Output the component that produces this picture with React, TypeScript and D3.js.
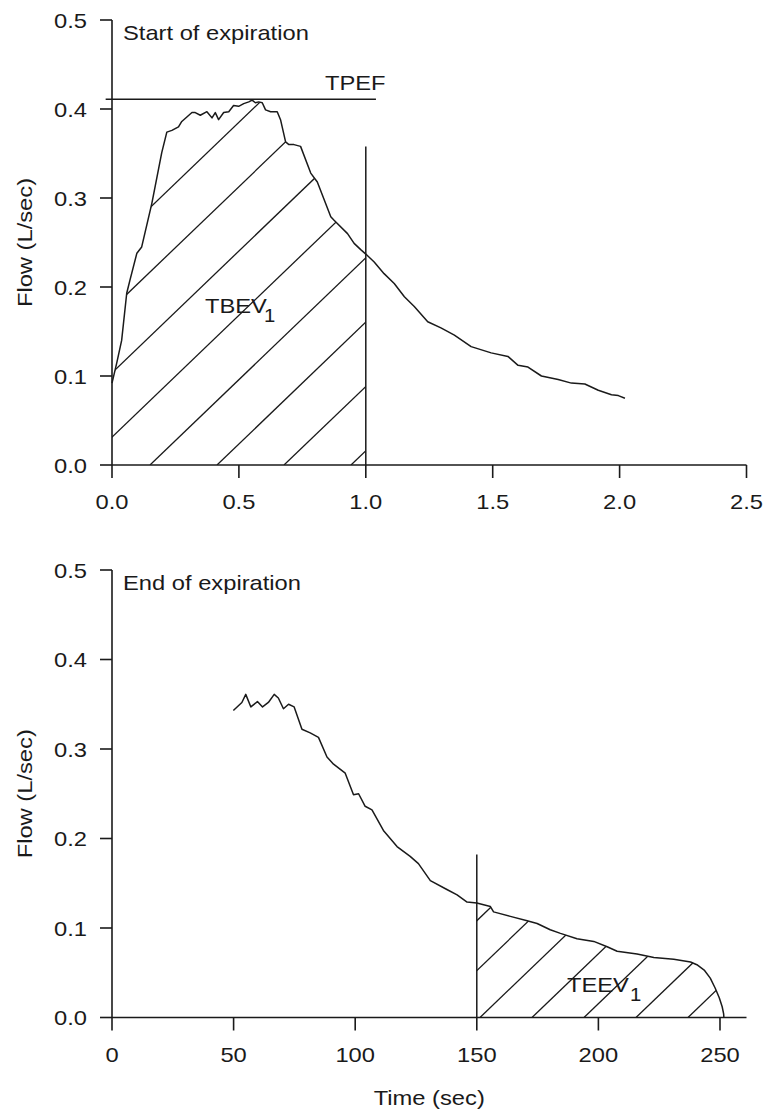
import React from "react";
import * as d3 from "d3";

// ---------- data ----------
const topTime = [0, 0.019, 0.038, 0.058, 0.071, 0.098, 0.117, 0.157, 0.196, 0.216, 0.236, 0.262, 0.275, 0.295, 0.315, 0.328, 0.348, 0.374, 0.394, 0.407, 0.42, 0.44, 0.46, 0.479, 0.499, 0.519, 0.539, 0.552, 0.565, 0.578, 0.592, 0.605, 0.625, 0.651, 0.664, 0.684, 0.697, 0.717, 0.743, 0.783, 0.809, 0.862, 0.875, 0.928, 0.954, 0.98, 1.0, 1.033, 1.072, 1.112, 1.152, 1.191, 1.244, 1.296, 1.349, 1.415, 1.494, 1.56, 1.6, 1.639, 1.692, 1.758, 1.81, 1.863, 1.916, 1.968, 1.995, 2.021];
const topFlow = [0.092, 0.115, 0.14, 0.193, 0.208, 0.238, 0.245, 0.294, 0.351, 0.374, 0.376, 0.38, 0.386, 0.391, 0.396, 0.396, 0.393, 0.397, 0.39, 0.396, 0.388, 0.396, 0.397, 0.404, 0.403, 0.406, 0.408, 0.41, 0.407, 0.408, 0.407, 0.399, 0.397, 0.397, 0.388, 0.363, 0.36, 0.36, 0.358, 0.328, 0.318, 0.279, 0.275, 0.26, 0.249, 0.242, 0.237, 0.228, 0.215, 0.204, 0.189, 0.178, 0.161, 0.154, 0.146, 0.133, 0.126, 0.122, 0.112, 0.11, 0.1, 0.096, 0.092, 0.091, 0.084, 0.079, 0.078, 0.075];

const bottomTime = [49.9, 53.4, 55.0, 57.1, 59.8, 61.9, 64.3, 66.7, 68.4, 70.5, 72.6, 74.9, 78.1, 81.5, 84.9, 88.4, 91.1, 95.9, 99.3, 101.4, 104.1, 106.9, 111.6, 117.2, 122.6, 126.0, 130.9, 137.7, 141.9, 146.0, 150.0, 155.6, 156.9, 163.8, 170.7, 174.8, 180.2, 184.4, 191.2, 198.1, 203.6, 207.7, 215.9, 222.8, 231.0, 237.9, 240.5, 243.5, 246.0, 248.0, 249.7, 250.9, 251.5, 251.6];
const bottomFlow = [0.343, 0.352, 0.361, 0.347, 0.353, 0.347, 0.352, 0.361, 0.357, 0.345, 0.35, 0.347, 0.322, 0.318, 0.313, 0.291, 0.283, 0.273, 0.249, 0.25, 0.236, 0.232, 0.209, 0.191, 0.18, 0.172, 0.153, 0.143, 0.137, 0.129, 0.128, 0.124, 0.118, 0.113, 0.108, 0.105, 0.098, 0.094, 0.088, 0.085, 0.079, 0.074, 0.071, 0.067, 0.065, 0.062, 0.059, 0.053, 0.044, 0.033, 0.022, 0.012, 0.004, 0.0];

const yTicks = [0, 0.1, 0.2, 0.3, 0.4, 0.5];
const topXTicks = [0, 0.5, 1.0, 1.5, 2.0, 2.5];
const bottomXTicks = [0, 50, 100, 150, 200, 250];

const tpefFlow = 0.411;
const tpefStart = -0.025;
const tpefEnd = 1.04;
const tbevTime = 1.0;
const tbevLineTop = 0.358;
const teevTime = 150;
const teevLineTop = 0.182;

// ---------- styling ----------
const INK = "#1a1a1a";
const FONT = "'Liberation Sans', Arial, Helvetica, sans-serif";
const FS = 21;
const SX = 1.13;

type Pt = { t: number; v: number };

function STxt({ x, y, anchor = "start", size = FS, children, rotate = 0 }: any) {
  return (
    <text
      transform={`translate(${x},${y}) rotate(${rotate}) scale(${SX},1)`}
      textAnchor={anchor}
      fontFamily={FONT}
      fontSize={size}
      fill={INK}
    >
      {children}
    </text>
  );
}

function Panel(props: {
  id: string;
  top: number;
  bottom: number;
  xDomain: [number, number];
  xTicks: number[];
  xFmt: (n: number) => string;
  pts: Pt[];
  hatchFrom: number;
  hatchTo: number;
  hatchSpacing: number;
  hatchPhase: number;
  title: string;
  xLabel?: string;
  extra: (xs: any, ys: any) => any;
}) {
  const left = 112;
  const right = 746.5;
  const xs = d3.scaleLinear().domain(props.xDomain).range([left, right]);
  const ys = d3.scaleLinear().domain([0, 0.5]).range([props.bottom, props.top]);
  const line = d3
    .line<Pt>()
    .x((d) => xs(d.t))
    .y((d) => ys(d.v));
  const area = d3
    .area<Pt>()
    .x((d) => xs(d.t))
    .y0(ys(0))
    .y1((d) => ys(d.v));
  const hatchPts = props.pts.filter((d) => d.t >= props.hatchFrom - 1e-9 && d.t <= props.hatchTo + 1e-9);
  const slope = 0.96;
  const H = 500;
  const base = ys(0);
  const hatch: number[] = [];
  for (let k = -15; k <= 15; k++) hatch.push(props.hatchPhase + k * props.hatchSpacing);
  const tickLen = 12;
  return (
    <g>
      <defs>
        <clipPath id={`clip-${props.id}`}>
          <path d={area(hatchPts) || ""} />
        </clipPath>
      </defs>
      <g clipPath={`url(#clip-${props.id})`}>
        {hatch.map((x0, i) => (
          <line key={i} x1={x0} y1={base} x2={x0 + H / slope} y2={base - H} stroke={INK} strokeWidth={1.3} />
        ))}
      </g>
      <line x1={left} y1={ys(0.5)} x2={left} y2={base} stroke={INK} strokeWidth={1.6} />
      <line x1={left} y1={base} x2={right} y2={base} stroke={INK} strokeWidth={1.6} />
      {yTicks.map((t) => (
        <g key={"y" + t}>
          <line x1={left - tickLen} x2={left} y1={ys(t)} y2={ys(t)} stroke={INK} strokeWidth={1.6} />
          <STxt x={87} y={ys(t) + 7.5} anchor="end">
            {t.toFixed(1)}
          </STxt>
        </g>
      ))}
      {props.xTicks.map((t) => (
        <g key={"x" + t}>
          <line x1={xs(t)} x2={xs(t)} y1={base} y2={base + tickLen + 1} stroke={INK} strokeWidth={1.6} />
          <STxt x={xs(t)} y={base + 44} anchor="middle">
            {props.xFmt(t)}
          </STxt>
        </g>
      ))}
      <STxt x={32} y={(ys(0.5) + base) / 2} anchor="middle" rotate={-90}>
        Flow (L/sec)
      </STxt>
      {props.xLabel && (
        <STxt x={(left + right) / 2} y={base + 87} anchor="middle">
          {props.xLabel}
        </STxt>
      )}
      <STxt x={123} y={ys(0.5) + 20}>
        {props.title}
      </STxt>
      {props.extra(xs, ys)}
      <path d={line(props.pts) || ""} fill="none" stroke={INK} strokeWidth={1.5} strokeLinejoin="round" />
    </g>
  );
}

export default function App() {
  const topPts: Pt[] = topTime.map((t, i) => ({ t, v: topFlow[i] }));
  const botPts: Pt[] = bottomTime.map((t, i) => ({ t, v: bottomFlow[i] }));
  return (
    <svg
      width={767}
      height={1118}
      style={{ position: "absolute", left: 0, top: 0, display: "block", background: "#fff" }}
    >
      <rect x={0} y={0} width={767} height={1118} fill="#fff" />
      <Panel
        id="top"
        top={20}
        bottom={465}
        xDomain={[0, 2.5]}
        xTicks={topXTicks}
        xFmt={(n) => n.toFixed(1)}
        pts={topPts}
        hatchFrom={0}
        hatchTo={tbevTime}
        hatchSpacing={67}
        hatchPhase={150}
        title="Start of expiration"
        extra={(xs: any, ys: any) => (
          <g>
            <line x1={xs(tpefStart)} x2={xs(tpefEnd)} y1={ys(tpefFlow)} y2={ys(tpefFlow)} stroke={INK} strokeWidth={1.5} />
            <line x1={xs(tbevTime)} x2={xs(tbevTime)} y1={ys(0)} y2={ys(tbevLineTop)} stroke={INK} strokeWidth={1.5} />
            <STxt x={xs(tpefEnd) - 51} y={90}>TPEF</STxt>
            <STxt x={205} y={313}>TBEV</STxt>
            <STxt x={264} y={321.5} size={18}>1</STxt>
          </g>
        )}
      />
      <Panel
        id="bot"
        top={570}
        bottom={1017.5}
        xDomain={[0, 260.9]}
        xTicks={bottomXTicks}
        xFmt={(n) => String(n)}
        pts={botPts}
        hatchFrom={teevTime}
        hatchTo={260}
        hatchSpacing={52}
        hatchPhase={480}
        title="End of expiration"
        xLabel="Time (sec)"
        extra={(xs: any, ys: any) => (
          <g>
            <line x1={xs(teevTime)} x2={xs(teevTime)} y1={ys(0)} y2={ys(teevLineTop)} stroke={INK} strokeWidth={1.5} />
            <STxt x={567} y={992}>TEEV</STxt>
            <STxt x={630} y={1000.5} size={18}>1</STxt>
          </g>
        )}
      />
    </svg>
  );
}
